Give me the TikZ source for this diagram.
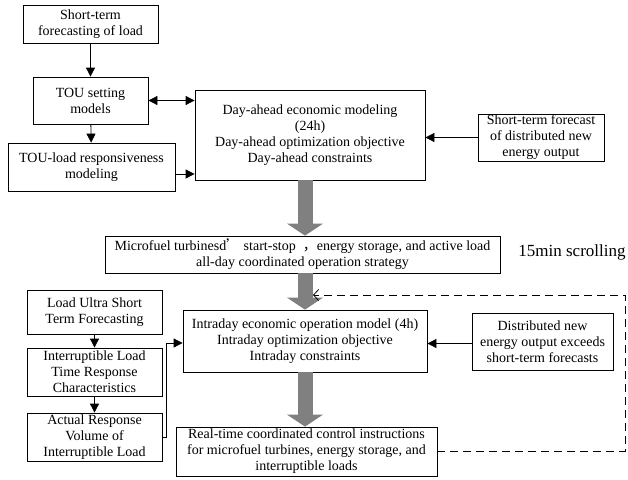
\documentclass[tikz,border=0pt]{standalone}
\usepackage{fontspec}
\setmainfont{Liberation Serif}
\newfontfamily\cjk{Noto Sans CJK SC}
\usetikzlibrary{arrows.meta}

\tikzset{
  box/.style={draw, line width=0.8pt, align=center, inner sep=1pt,
    font=\fontsize{14}{16}\selectfont},
  link/.style={line width=0.8pt, -{Triangle[length=9pt,width=9pt]}},
  both/.style={line width=0.8pt,
    {Triangle[length=9pt,width=9pt]}-{Triangle[length=9pt,width=9pt]}},
  bigarrow/.style={line width=15pt, black!50,
    -{Triangle[length=12pt,width=36pt,line width=0pt]}},
  loopline/.style={line width=0.8pt, dash pattern=on 8pt off 5pt,
    -{Straight Barb[length=5pt,width=11pt]}}
}

\begin{document}
\begin{tikzpicture}[x=1pt, y=-1pt]
  \useasboundingbox (0,0) rectangle (628,479);
  % day-ahead stage
  \node[box, minimum width=135pt, minimum height=38pt] (load) at (90.5,24)
    {Short-term\\forecasting of load};
  \node[box, minimum width=115pt, minimum height=47pt] (tou) at (90.5,100.5)
    {TOU setting\\models};
  \node[box, minimum width=167pt, minimum height=48pt] (resp) at (91.5,167)
    {TOU-load responsiveness\\modeling};
  \node[box, minimum width=230pt, minimum height=90pt] (dayahead) at (310,135)
    {Day-ahead economic modeling\\(24h)\\Day-ahead optimization objective\\Day-ahead constraints};
  \node[box, minimum width=126pt, minimum height=43pt] (forecast) at (541,137.5)
    {Short-term forecast\\of distributed new\\energy output};
  \node[box, minimum width=395pt, minimum height=37pt] (strategy) at (302.5,254.5)
    {Microfuel turbinesd{\cjk ’}\ start-stop\ \ {\cjk ，}energy storage, and active load\\all-day coordinated operation strategy};
  \node[font=\fontsize{17}{19}\selectfont] (scroll) at (572,252) {15min scrolling};
  % intraday stage
  \node[box, minimum width=135pt, minimum height=44pt] (ultra) at (94.5,312)
    {Load Ultra Short\\Term Forecasting};
  \node[box, minimum width=135pt, minimum height=48pt] (interr) at (94.5,372)
    {Interruptible Load\\Time Response\\Characteristics};
  \node[box, minimum width=135pt, minimum height=48pt] (actual) at (94.5,437)
    {Actual Response\\Volume of\\Interruptible Load};
  \node[box, minimum width=244pt, minimum height=62pt] (intraday) at (305,341)
    {Intraday economic operation model (4h)\\Intraday optimization objective\\Intraday constraints};
  \node[box, minimum width=141pt, minimum height=57pt] (distrib) at (542.5,341.5)
    {Distributed new\\energy output exceeds\\short-term forecasts};
  \node[box, minimum width=261pt, minimum height=49pt] (realtime) at (306.5,451.5)
    {Real-time coordinated control instructions\\for microfuel turbines, energy storage, and\\interruptible loads};

  \draw[link] (load) -- (tou);
  \draw[link] (tou) -- (resp);
  \draw[both] (tou.east) -- (tou.east -| dayahead.west);
  \draw[link] ([yshift=-7pt]resp.east) -- ([yshift=-7pt]resp.east -| dayahead.west);
  \draw[link] (forecast.west) -- (forecast.west -| dayahead.east);
  \draw[link] (ultra) -- (interr);
  \draw[link] (interr) -- (actual);
  \coordinate (bend) at (166,437);
  \draw[link] (actual.east) -- (bend) |- ([yshift=-2pt]intraday.west);
  \draw[link] ([yshift=-2pt]distrib.west) -- ([yshift=-2pt]distrib.west -| intraday.east);

  \draw[bigarrow] (intraday.north |- dayahead.south) -- (intraday.north |- strategy.north);
  \draw[bigarrow] (intraday.north |- strategy.south) -- (intraday.north);
  \draw[bigarrow] (intraday.south) -- (intraday.south |- realtime.north);

  \coordinate (loopc) at (625,295);
  \coordinate (looptip) at (313,295);
  \draw[loopline] (realtime.east) -| (loopc) -- (looptip);
\end{tikzpicture}
\end{document}
